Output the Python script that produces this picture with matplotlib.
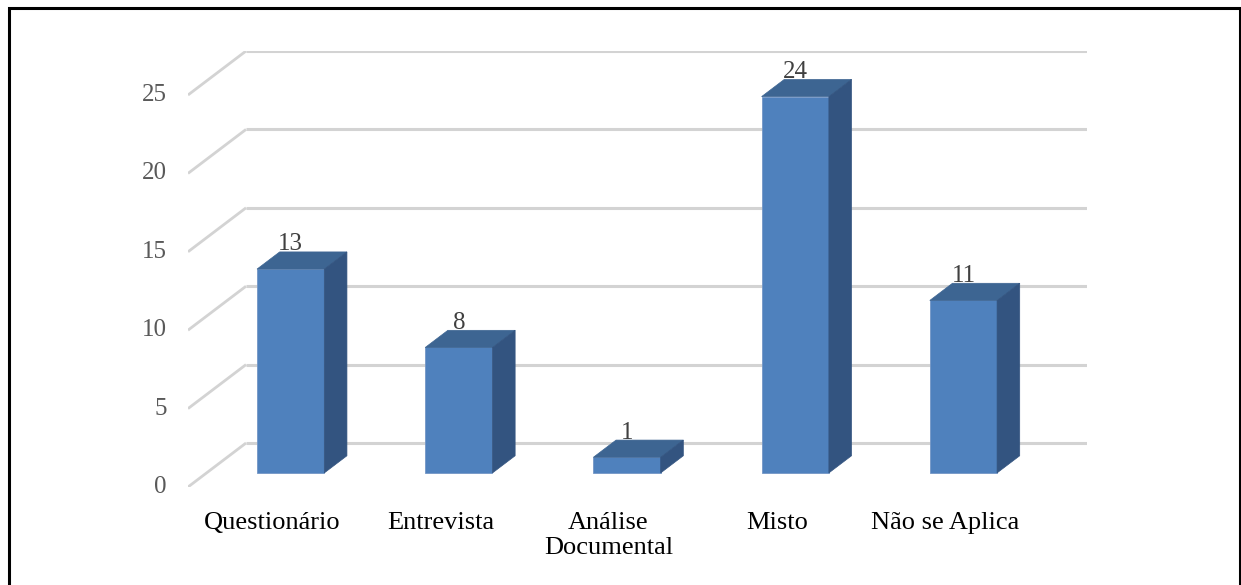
import matplotlib.pyplot as plt
from matplotlib.patches import Polygon, Rectangle
import numpy as np

categories = ['Questionário', 'Entrevista', 'Análise\nDocumental', 'Misto', 'Não se Aplica']
counts = [13, 8, 1, 24, 11]
yticks = [0, 5, 10, 15, 20, 25]

# fake 3d: shift of the back wall relative to the front plane
DX = 0.345   # in category units
DY = 2.806   # in value units
# bars sit between these fractions of the depth
D_FRONT = 0.32
D_BACK = 0.71
BAR_W = 0.40

FRONT = '#4f81bd'
TOP = '#3d6592'
SIDE = '#335480'
GRID = '#d3d3d3'
TICK_GREY = '#595959'


def depth(d):
    """Return the x, y shift for a given depth fraction."""
    return d * DX, d * DY


def draw_walls(ax):
    """Gridlines on the back wall plus the slanted floor ticks."""
    for v in yticks:
        ax.plot([-0.5, -0.5 + DX], [v, v + DY], c=GRID, lw=2, solid_capstyle='butt', zorder=1)
        ax.plot([-0.5 + DX, len(categories) - 0.5 + DX], [v + DY, v + DY],
                c=GRID, lw=2.2, solid_capstyle='butt', zorder=1)
        ax.text(-0.625, v, str(v), ha='right', va='center', fontsize=18,
                family='Liberation Serif', color=TICK_GREY)


def draw_bars(ax):
    x = np.arange(len(categories))
    fx, fy = depth(D_FRONT)
    bx, by = depth(D_BACK)
    ddx, ddy = bx - fx, by - fy
    ax.bar(x + fx, counts, width=BAR_W, bottom=fy, color=FRONT,
           edgecolor='#7396c6', lw=0.6, zorder=3)
    for i, v in enumerate(counts):
        x0 = i + fx - BAR_W / 2
        x1 = i + fx + BAR_W / 2
        ytop = v + fy
        top = Polygon([(x0, ytop), (x1, ytop), (x1 + ddx, ytop + ddy), (x0 + ddx, ytop + ddy)],
                      closed=True, fc=TOP, ec=TOP, lw=0.5, zorder=3)
        side = Polygon([(x1, fy), (x1 + ddx, fy + ddy), (x1 + ddx, ytop + ddy), (x1, ytop)],
                       closed=True, fc=SIDE, ec=SIDE, lw=0.5, zorder=3)
        ax.add_patch(top)
        ax.add_patch(side)
        ax.text(i + fx, ytop + ddy + 0.1, str(v), ha='center', va='baseline',
                fontsize=18, family='Liberation Serif', color='#404040', zorder=4)


def draw_labels(ax):
    for i, lab in enumerate(categories):
        ax.text(i, -1.6, lab, ha='center', va='top', fontsize=19,
                family='Liberation Serif', color='black', linespacing=1.18)


W, H = 1241, 585
fig = plt.figure(figsize=(W / 100, H / 100), dpi=100)

# axes spans the front-left corner (188, 487) to the back-top corner (1087, 51) in pixels
ax = fig.add_axes([188 / W, (H - 487) / H, (1087 - 188) / W, (487 - 51) / H])
ax.set_xlim(-0.5, len(categories) - 0.5 + DX)
ax.set_ylim(0, 25 + DY)
ax.axis('off')

draw_walls(ax)
draw_bars(ax)
draw_labels(ax)

for t in ax.texts:
    t.set_clip_on(False)

# black frame, open at the bottom
fig.patches.append(Rectangle((8.5 / W, -0.2), (1239.5 - 8.5) / W, 0.2 + (H - 7.5) / H,
                             transform=fig.transFigure, fill=False, ec='black', lw=2.2))

fig.savefig('out.png', dpi=100)
